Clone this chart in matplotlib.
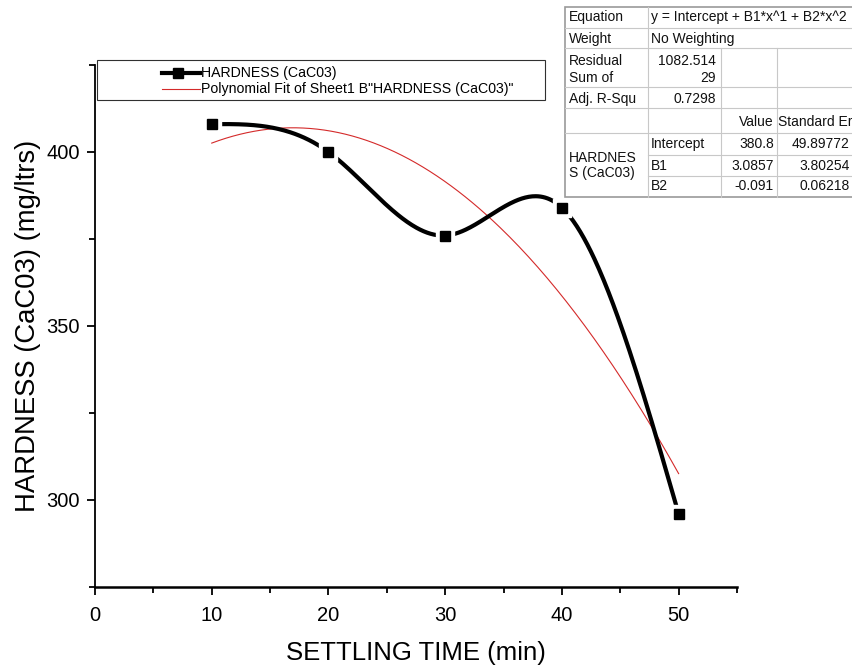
import numpy as np
import matplotlib
matplotlib.use("Agg")
import matplotlib.pyplot as plt
from matplotlib.lines import Line2D
from matplotlib.patches import Rectangle
from matplotlib.ticker import MultipleLocator
from matplotlib.transforms import Bbox

plt.rcParams['font.family'] = ['Liberation Sans', 'DejaVu Sans']

# ---- data ----
settling_time = [10, 20, 30, 40, 50]
hardness = [408, 400, 376, 384, 296]
fit_intercept = 380.8
fit_b1 = 3.0857
fit_b2 = -0.091
x_ticks = [0, 10, 20, 30, 40, 50]
y_ticks = [300, 350, 400]

series_label = "HARDNESS (CaC03)"
fit_label = 'Polynomial Fit of Sheet1 B"HARDNESS (CaC03)"'

W, H = 853, 667


def natural_spline(x, y, xs):
    x = np.asarray(x, float)
    y = np.asarray(y, float)
    n = len(x)
    h = np.diff(x)
    A = np.zeros((n, n))
    r = np.zeros(n)
    A[0, 0] = 1
    A[-1, -1] = 1
    for i in range(1, n - 1):
        A[i, i - 1] = h[i - 1]
        A[i, i] = 2 * (h[i - 1] + h[i])
        A[i, i + 1] = h[i]
        r[i] = 3 * ((y[i + 1] - y[i]) / h[i] - (y[i] - y[i - 1]) / h[i - 1])
    c = np.linalg.solve(A, r)
    out = np.empty_like(xs)
    for k, xv in enumerate(xs):
        i = min(max(np.searchsorted(x, xv) - 1, 0), n - 2)
        t = xv - x[i]
        b = (y[i + 1] - y[i]) / h[i] - h[i] * (2 * c[i] + c[i + 1]) / 3
        d = (c[i + 1] - c[i]) / (3 * h[i])
        out[k] = y[i] + b * t + c[i] * t ** 2 + d * t ** 3
    return out


fig = plt.figure(figsize=(W / 100, H / 100), dpi=100)
ax = fig.add_axes([95 / W, 1 - 587 / H, (737 - 95) / W, (587 - 65) / H])

xs = np.linspace(settling_time[0], settling_time[-1], 400)
ys = natural_spline(settling_time, hardness, xs)
ax.plot(xs, ys, color='black', lw=3.0, zorder=3, solid_capstyle='butt')

xf = np.linspace(settling_time[0], settling_time[-1], 200)
yf = fit_intercept + fit_b1 * xf + fit_b2 * xf ** 2
ax.plot(xf, yf, color='#d42a2a', lw=0.8, zorder=2)

# white halo around markers (Origin-style gap)
ax.plot(settling_time, hardness, ls='none', marker='s', ms=13, mfc='white', mec='white', zorder=4)
ax.plot(settling_time, hardness, ls='none', marker='s', ms=7.5, mfc='black', mec='black', zorder=5)

ax.set_xlim(0, 55)
ax.set_ylim(275, 425)
ax.set_xticks(x_ticks)
ax.set_yticks(y_ticks)
ax.xaxis.set_minor_locator(MultipleLocator(5))
ax.yaxis.set_minor_locator(MultipleLocator(25))

for s in ['top', 'right']:
    ax.spines[s].set_visible(False)
ax.spines['bottom'].set_linewidth(1.8)
ax.spines['left'].set_linewidth(1.3)
ax.tick_params(axis='both', which='major', direction='out', length=6, width=1.3, labelsize=14.5)
ax.tick_params(axis='x', which='major', pad=8)
ax.tick_params(axis='y', which='major', pad=5)
ax.tick_params(axis='both', which='minor', direction='out', length=4, width=1.3)

ax.set_xlabel("SETTLING TIME (min)", fontsize=18.5)
ax.set_ylabel("HARDNESS (CaC03) (mg/ltrs)", fontsize=19.8)
ax.xaxis.set_label_coords(0.5, (587 - 641) / 522)
ax.yaxis.set_label_coords((41 - 95) / 642, 0.5)


def fx(x):
    return x / W


def fy(y):
    return 1 - y / H


# ---- legend box ----
lfs = 10.2
fig.add_artist(Rectangle((fx(97), fy(100)), fx(545) - fx(97), fy(60) - fy(100),
                         transform=fig.transFigure, fill=True, facecolor='white',
                         edgecolor='#303030', lw=0.8, zorder=6))
fig.add_artist(Line2D([fx(162), fx(200)], [fy(73), fy(73)], transform=fig.transFigure,
                      color='black', lw=3.0, zorder=7))
fig.add_artist(Line2D([fx(178)], [fy(73)], transform=fig.transFigure,
                      color='black', ls='none', marker='s', ms=7.5, zorder=8))
fig.add_artist(Line2D([fx(162), fx(200)], [fy(89), fy(89)], transform=fig.transFigure,
                      color='#d42a2a', lw=0.8, zorder=7))
fig.text(fx(201), fy(73), series_label, fontsize=lfs, va='center', ha='left', zorder=8)
fig.text(fx(201), fy(89), fit_label, fontsize=lfs, va='center', ha='left', zorder=8)

# ---- fit result table ----
tl, tr = 565, 860
rows = [7, 28, 48, 87, 108, 133, 155, 176, 197]
c2, c3, c4 = 648, 721, 777
fig.add_artist(Rectangle((fx(tl), fy(rows[-1])), fx(tr) - fx(tl), fy(rows[0]) - fy(rows[-1]),
                         transform=fig.transFigure, facecolor='white', edgecolor='#9a9a9a',
                         lw=1.2, zorder=6))
line_kw = dict(transform=fig.transFigure, color='#c8c8c8', lw=0.8, zorder=7)
for yy in rows[1:6]:
    fig.add_artist(Line2D([fx(tl), fx(tr)], [fy(yy), fy(yy)], **line_kw))
for yy in rows[6:8]:
    fig.add_artist(Line2D([fx(c2), fx(tr)], [fy(yy), fy(yy)], **line_kw))
fig.add_artist(Line2D([fx(c2), fx(c2)], [fy(rows[0]), fy(rows[-1])], **line_kw))
for xx in (c3, c4):
    fig.add_artist(Line2D([fx(xx), fx(xx)], [fy(rows[2]), fy(rows[-1])], **line_kw))

tfs = 10
tkw = dict(fontsize=tfs, va='center', zorder=8, color='#111111')


def cell(x, y, s, ha='left', clip=None):
    t = fig.text(fx(x), fy(y), s, ha=ha, **tkw)
    if clip is not None:
        t.set_clip_box(clip)
        t.set_clip_on(True)
    return t


cell(569, 17, "Equation")
cell(651, 17, "y = Intercept + B1*x^1 + B2*x^2")
cell(569, 38.5, "Weight")
cell(651, 38.5, "No Weighting")
cell(569, 61, "Residual")
cell(569, 77.5, "Sum of")
clipbox = Bbox([[tl, H - rows[3]], [c2, H - rows[2]]])
cell(569, 94, "Squares", clip=clipbox)
cell(716, 61, "1082.514", ha='right')
cell(716, 77.5, "29", ha='right')
cell(569, 99, "Adj. R-Squ")
cell(716, 99, "0.7298", ha='right')
cell(774, 122, "Value", ha='right')
cell(778, 122, "Standard Error")
cell(569, 157.5, "HARDNES")
cell(569, 173.5, "S (CaC03)")
names = ["Intercept", "B1", "B2"]
values = ["380.8", "3.0857", "-0.091"]
errors = ["49.89772", "3.80254", "0.06218"]
for k, yy in enumerate([144, 166, 186.5]):
    cell(651, yy, names[k])
    cell(774, yy, values[k], ha='right')
    cell(850, yy, errors[k], ha='right')

fig.savefig("out.png", dpi=100)
